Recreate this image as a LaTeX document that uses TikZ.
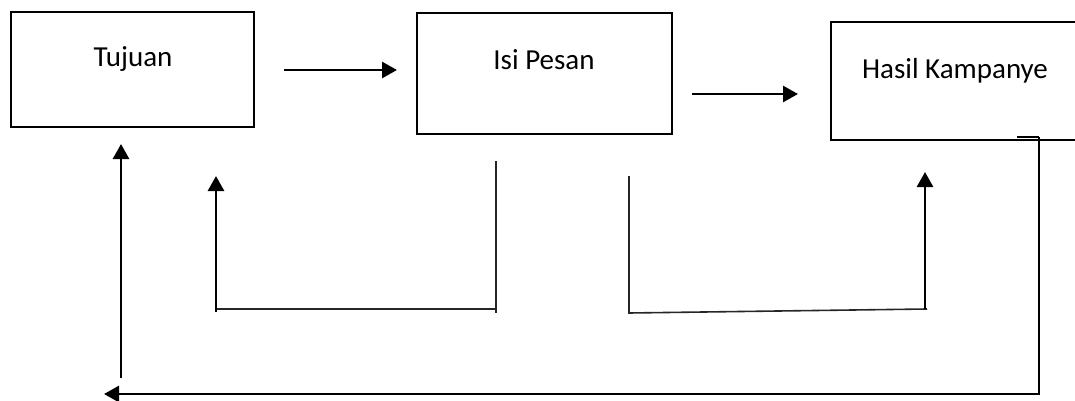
\documentclass[tikz,border=0pt]{standalone}
\usepackage{fontspec}
\setmainfont{Carlito}
\usetikzlibrary{arrows.meta}
\begin{document}
\begin{tikzpicture}[x=1pt,y=-1pt,
  box/.style={draw=black,line width=2.8pt,fill=none},
  lbl/.style={anchor=base,inner sep=0pt,font=\fontsize{29}{34}\selectfont},
  flow/.style={line width=2.8pt,-{Triangle[length=15pt,width=16pt]}},
  thin/.style={line width=1.6pt,black!85}]
\useasboundingbox (0,0) rectangle (1075,401);
% boxes
\draw[box] (11,12) rectangle (254,127);
\node (tujuanbox) [inner sep=0pt,minimum width=243pt,minimum height=115pt] at (132.5,69.5) {};
\draw[box] (417,13) rectangle (672,134);
\node (isibox) [inner sep=0pt,minimum width=255pt,minimum height=121pt] at (544.5,73.5) {};
\begin{scope}
\clip (0,0) rectangle (1075,401);
\draw[box] (1085,22) -- (831,22) -- (831,140) -- (1085,140);
\end{scope}
\node (hasilbox) [inner sep=0pt,minimum width=244pt,minimum height=118pt] at (953,81) {};
% labels
\node[lbl] (tujuan) at (133,67) {Tujuan};
\node[lbl] (isi) at (544,70) {Isi Pesan};
\node[lbl] (hasil) at (955,79) {Hasil Kampanye};
% forward arrows
\coordinate (a1s) at (284,70);
\coordinate (a1e) at (397,70);
\draw[flow] (a1s) -- (a1e);
\coordinate (a2s) at (692,94);
\coordinate (a2e) at (798,94);
\draw[flow] (a2s) -- (a2e);
% loop from Isi Pesan back to Tujuan
\coordinate (l1a) at (496,161);
\coordinate (l1b) at (496,313);
\coordinate (l1c) at (496,309);
\coordinate (l1d) at (216,309);
\coordinate (l1e) at (216,312);
\coordinate (l1t) at (216,176);
\draw[thin] (l1a) -- (l1b);
\draw[thin] (l1c) -- (l1d);
\draw[flow] (l1e) -- (l1t);
% loop from Isi Pesan to Hasil Kampanye
\coordinate (l2a) at (629,176);
\coordinate (l2b) at (629,313);
\coordinate (l2c) at (927,309);
\coordinate (l2d) at (925,309);
\coordinate (l2t) at (925,172);
\draw[thin] (l2a) -- (l2b) -- (l2c);
\draw[flow] (l2d) -- (l2t);
% long feedback from Hasil Kampanye to Tujuan
\coordinate (fbtick) at (1017,137);
\coordinate (fbtop) at (1039,137);
\coordinate (fbcorner) at (1039,394);
\coordinate (fbend) at (104,394);
\draw[line width=2.8pt] (fbtick) -- (fbtop);
\draw[flow] (fbtop) -- (fbcorner) -- (fbend);
\coordinate (upbot) at (121,378);
\coordinate (uptip) at (121,144);
\draw[flow] (upbot) -- (uptip);
\end{tikzpicture}
\end{document}
